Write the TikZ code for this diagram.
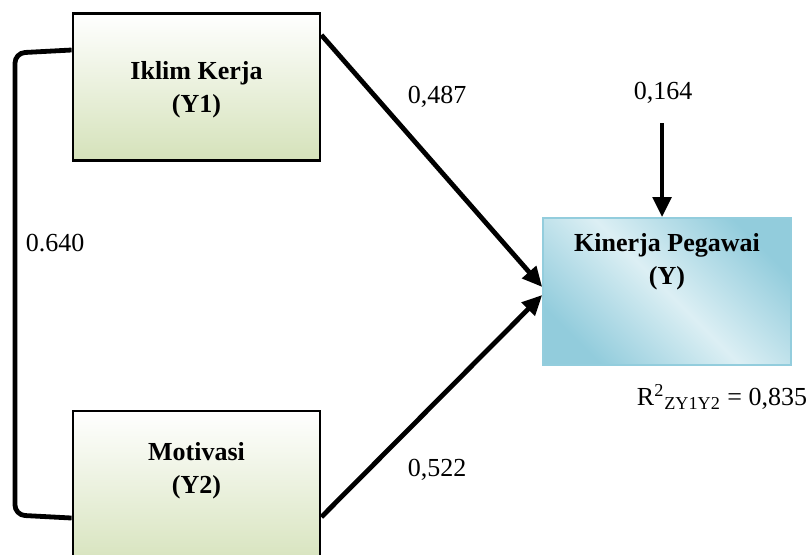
\documentclass[tikz,border=0pt]{standalone}
\usepackage{fontspec}
\setmainfont{Liberation Serif}
\usetikzlibrary{arrows.meta}
\definecolor{gdark}{RGB}{213,226,186}
\definecolor{bdark}{RGB}{146,204,220}
\definecolor{blight}{RGB}{220,239,244}
\definecolor{bborder}{RGB}{147,205,221}
\tikzset{
  gbox/.style={draw=black, line width=1.4pt, top color=white, bottom color=gdark, minimum width=123.5pt},
  bbox/.style={draw=bborder, line width=0.8pt, left color=bdark, right color=bdark, middle color=blight, shading angle=-45, minimum width=124pt, minimum height=73.5pt},
  ttl/.style={font=\fontsize{13}{16.5}\selectfont\bfseries, align=center},
  lbl/.style={font=\fontsize{13}{15}\selectfont},
  conn/.style={line width=2.4pt},
  arr/.style={line width=2.4pt, -{Triangle[length=10pt,width=9pt]}}
}
\begin{document}
\begin{tikzpicture}[x=0.5pt,y=-0.5pt]
\useasboundingbox (0,0) rectangle (807,554);
\node[gbox, minimum height=73.5pt] (y1) at (196.5,87) {};
\node[gbox, minimum height=80pt] (y2) at (196.5,491) {};
\node[bbox] (y) at (667,291.5) {};
\node[ttl] (y1t) at (196.5,90) {Iklim Kerja\\(Y1)};
\node[ttl] (y2t) at (196.5,471) {Motivasi\\(Y2)};
\node[ttl] (yt) at (667,262) {Kinerja Pegawai\\(Y)};
\coordinate (src) at (662,123);
\draw[conn, rounded corners=5pt] (y1.west |- 0,50) -- (15,53) -- (15,515) -- (y2.west |- 0,518);
\draw[arr] (y1.east |- 0,35) -- (y.west |- 0,287);
\draw[arr] (y2.east |- 0,517) -- (y.west |- 0,295);
\draw[arr] (src) -- (y.north -| src);
\node[lbl] (l1) at (437,97) {0,487};
\node[lbl] (l2) at (663,93) {0,164};
\node[lbl] (l3) at (55,243) {0.640};
\node[lbl] (l4) at (437,470) {0,522};
\node[lbl] (l5) at (722,397) {R\textsuperscript{2}\textsubscript{ZY1Y2} = 0,835};
\end{tikzpicture}
\end{document}
